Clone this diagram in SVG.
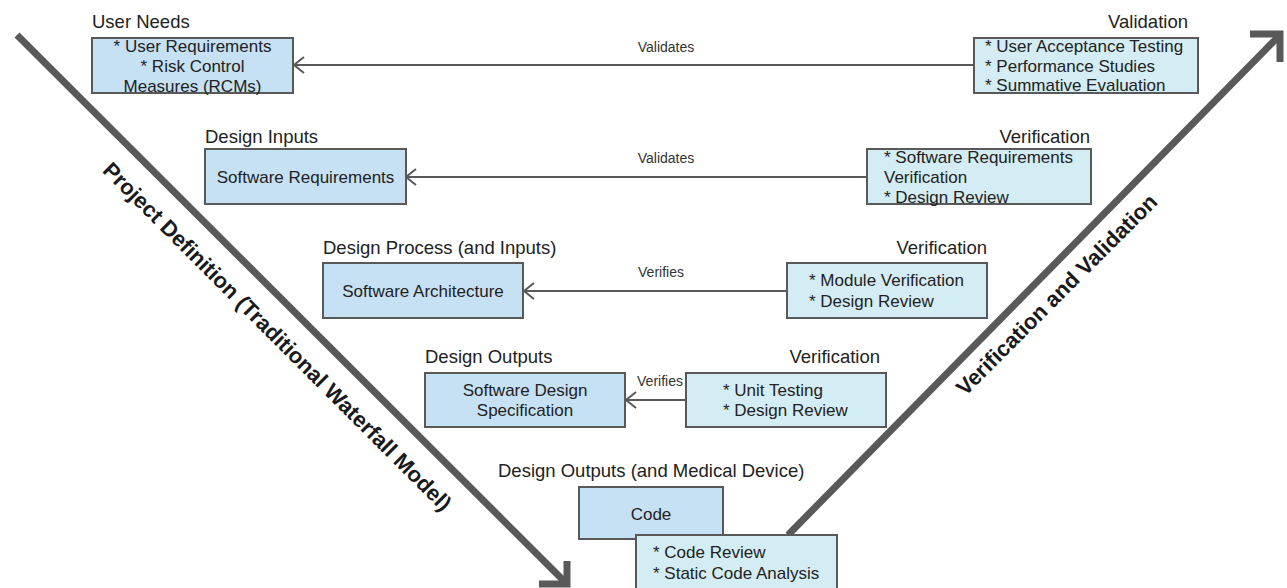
<svg xmlns="http://www.w3.org/2000/svg" width="1287" height="588" viewBox="0 0 1287 588">
<defs>
<style>
.bg{fill:#ffffff}
.phase{fill:#c6e0f4;stroke:#595959;stroke-width:2}
.check{fill:#d4ecf3;stroke:#595959;stroke-width:2}
.t{font-family:"Liberation Sans",Arial,sans-serif;font-size:17px;fill:#222222}
.lbl{font-family:"Liberation Sans",Arial,sans-serif;font-size:18.5px;fill:#222222}
.cl{font-family:"Liberation Sans",Arial,sans-serif;font-size:14px;fill:#333333;text-anchor:middle}
.mid{text-anchor:middle}
.end{text-anchor:end}
.conn{fill:none;stroke:#595959;stroke-width:2}
.big{fill:none;stroke:#595959;stroke-width:7;stroke-linejoin:miter}
.diag{font-family:"Liberation Sans",Arial,sans-serif;font-size:22px;font-weight:bold;fill:#1a1a1a;text-anchor:middle}
</style>
<marker id="open" viewBox="-12 -9 14 18" markerWidth="14" markerHeight="18" refX="0" refY="0" orient="auto" markerUnits="userSpaceOnUse">
<path d="M-10,-8 L0,0 L-10,8" fill="none" stroke="#595959" stroke-width="2"/>
</marker>
</defs>
<rect class="bg" x="0" y="0" width="1287" height="588"/>

<g id="phase-arrows">
<line class="big" x1="17" y1="35" x2="565" y2="582"/>
<polyline class="big" points="539,584 567,584 567,561"/>
<line class="big" x1="788" y1="535" x2="1278" y2="37"/>
<polyline class="big" points="1250,34 1280,34 1280,62"/>
<text class="diag" transform="translate(272,342) rotate(45)">Project Definition (Traditional Waterfall Model)</text>
<text class="diag" transform="translate(1062,300) rotate(-45)">Verification and Validation</text>
</g>

<g id="connectors">
<line class="conn" x1="974" y1="65" x2="294" y2="65" marker-end="url(#open)"/>
<text class="cl" x="666" y="52">Validates</text>
<line class="conn" x1="867" y1="177" x2="406" y2="177" marker-end="url(#open)"/>
<text class="cl" x="666" y="163">Validates</text>
<line class="conn" x1="787" y1="291" x2="524" y2="291" marker-end="url(#open)"/>
<text class="cl" x="661" y="277">Verifies</text>
<line class="conn" x1="686" y1="400" x2="626" y2="400" marker-end="url(#open)"/>
<text class="cl" x="660" y="386">Verifies</text>
</g>

<g id="user-needs">
<text class="lbl" x="92" y="28">User Needs</text>
<rect class="phase" x="92" y="38" width="201" height="55"/>
<text class="t mid" x="192.5" y="52">* User Requirements</text>
<text class="t mid" x="192.5" y="72">* Risk Control</text>
<text class="t mid" x="192.5" y="92">Measures (RCMs)</text>
</g>

<g id="validation">
<text class="lbl end" x="1188" y="28">Validation</text>
<rect class="check" x="974" y="38" width="224" height="55"/>
<text class="t" x="985" y="52">* User Acceptance Testing</text>
<text class="t" x="985" y="71.5">* Performance Studies</text>
<text class="t" x="985" y="91">* Summative Evaluation</text>
</g>

<g id="design-inputs">
<text class="lbl" x="205" y="143">Design Inputs</text>
<rect class="phase" x="205" y="149" width="201" height="55"/>
<text class="t mid" x="305.5" y="183">Software Requirements</text>
</g>

<g id="verification-1">
<text class="lbl end" x="1090" y="143">Verification</text>
<rect class="check" x="867" y="149" width="224" height="55"/>
<text class="t" x="884" y="163">* Software Requirements</text>
<text class="t" x="884" y="183">Verification</text>
<text class="t" x="884" y="203">* Design Review</text>
</g>

<g id="design-process">
<text class="lbl" x="323" y="254">Design Process (and Inputs)</text>
<rect class="phase" x="323" y="263" width="200" height="55"/>
<text class="t mid" x="423" y="297">Software Architecture</text>
</g>

<g id="verification-2">
<text class="lbl end" x="987" y="254">Verification</text>
<rect class="check" x="787" y="263" width="200" height="55"/>
<text class="t" x="809" y="286">* Module Verification</text>
<text class="t" x="809" y="307">* Design Review</text>
</g>

<g id="design-outputs">
<text class="lbl" x="425" y="363">Design Outputs</text>
<rect class="phase" x="425" y="373" width="200" height="54"/>
<text class="t mid" x="525" y="396">Software Design</text>
<text class="t mid" x="525" y="416">Specification</text>
</g>

<g id="verification-3">
<text class="lbl end" x="880" y="363">Verification</text>
<rect class="check" x="686" y="373" width="200" height="54"/>
<text class="t" x="723" y="396">* Unit Testing</text>
<text class="t" x="723" y="416">* Design Review</text>
</g>

<g id="code">
<text class="lbl" x="498" y="477">Design Outputs (and Medical Device)</text>
<rect class="phase" x="579" y="487" width="144" height="52"/>
<text class="t mid" x="651" y="520">Code</text>
</g>

<g id="code-review">
<rect class="check" x="636" y="535" width="201" height="60"/>
<text class="t" x="653" y="558">* Code Review</text>
<text class="t" x="653" y="579">* Static Code Analysis</text>
</g>
</svg>
